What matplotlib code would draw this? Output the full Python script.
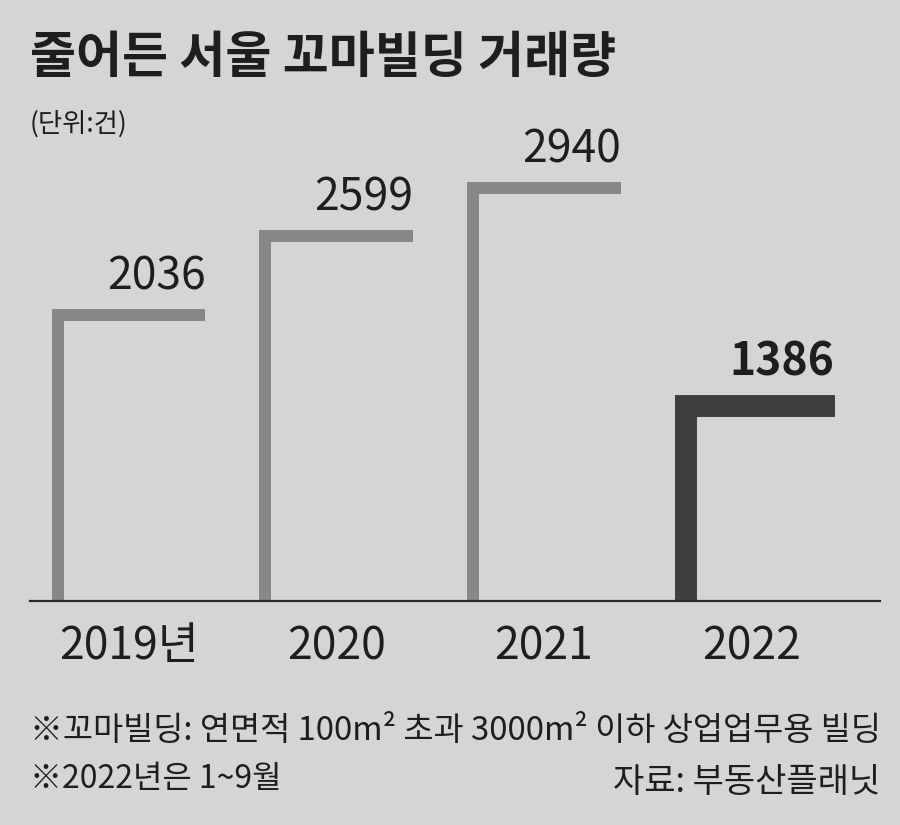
import matplotlib
matplotlib.use("Agg")
import matplotlib.pyplot as plt

plt.rcParams['font.family'] = ['Noto Sans CJK KR', 'DejaVu Sans']

# data
years = ['2019년', '2020', '2021', '2022']
deals = [2036, 2599, 2940, 1386]
value_labels = ['2036', '2599', '2940', '1386']

title = '줄어든 서울 꼬마빌딩 거래량'
unit = '(단위:건)'
note1 = '※꼬마빌딩: 연면적 100m² 초과 3000m² 이하 상업업무용 빌딩'
note2 = '※2022년은 1~9월'
source = '자료: 부동산플래닛'

# styles (last bar highlighted)
bg = '#d5d5d3'
ink = '#1e1e1e'
line_w = [8.6, 8.6, 8.6, 15.8]          # points
line_c = ['#878787', '#878787', '#878787', '#3e3e3e']
bar_right = [0.37, 0.37, 0.37, 0.40]
bold = ['normal', 'normal', 'normal', 'bold']

W, H = 900, 825
fig = plt.figure(figsize=(W / 100, H / 100), dpi=100, facecolor=bg)
base_px = 601
ax = fig.add_axes([0, (H - base_px) / H, 1, base_px / H])
ax.set_facecolor(bg)
xmin, xmax = -0.619, 3.715
ax.set_xlim(xmin, xmax)
ax.set_ylim(0, base_px / 0.1405)
px_per_x = W / (xmax - xmin)

for i, (v, lw, c) in enumerate(zip(deals, line_w, line_c)):
    half = lw * 100 / 72 / 2 / px_per_x
    xl = i - 0.37 + half
    xr = i + bar_right[i]
    ax.plot([xl, xl, xr], [0, v, v], color=c, lw=lw,
            solid_joinstyle='miter', solid_capstyle='butt', clip_on=False)
    ax.annotate(value_labels[i], (xr, v), xytext=(0, lw / 2 + 14),
                textcoords='offset points', ha='right', va='baseline',
                fontsize=32, color=ink, fontweight=bold[i])

ax.axhline(0, xmin=30 / W, xmax=880 / W, color='#2a2a2a', lw=1.6, clip_on=False)

ax.set_xticks(range(len(years)), years, fontsize=32, color=ink)
ax.tick_params(axis='x', length=0, pad=16)
ax.set_yticks([])
for s in ax.spines.values():
    s.set_visible(False)

fig.text(30 / W, 1 - 33 / H, title, fontsize=36, fontweight='bold',
         color=ink, ha='left', va='top')
fig.text(30 / W, 1 - 110 / H, unit, fontsize=19, color=ink, ha='left', va='top')
fig.text(30 / W, 1 - 740 / H, note1, fontsize=23.6, color=ink, ha='left', va='baseline')
fig.text(30 / W, 1 - 788 / H, note2, fontsize=23, color=ink, ha='left', va='baseline')
fig.text(880 / W, 1 - 792 / H, source, fontsize=24.5, color=ink, ha='right', va='baseline')

fig.savefig('out.png', dpi=100, facecolor=bg)
